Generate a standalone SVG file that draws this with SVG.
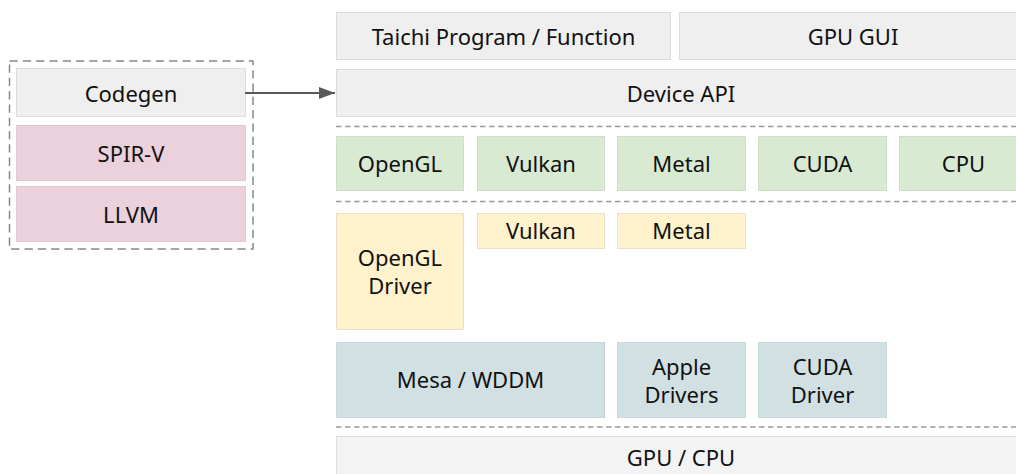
<svg xmlns="http://www.w3.org/2000/svg" width="1016" height="474" viewBox="0 0 1016 474">
<defs>
<style>
text{font-family:"Noto Sans","Open Sans","DejaVu Sans",sans-serif;font-size:22px;fill:#111;text-anchor:middle}
.b{stroke-width:1}
.gray{fill:#efefef;stroke:#dcdcdc}
.pink{fill:#ead1dc;stroke:#e0c8d3}
.green{fill:#d9ead3;stroke:#cddfc7}
.yellow{fill:#fff2cc;stroke:#e8e0c8}
.blue{fill:#d0e0e3;stroke:#c6d6d9}
.light{fill:#f3f3f3;stroke:#dedede}
.sep{stroke:#9a9a9a;stroke-width:1.3;stroke-dasharray:5.5 3.5;fill:none}
.grp{stroke:#888;stroke-width:1.5;stroke-dasharray:8.3 5;fill:none}
</style>
<marker id="arr" markerWidth="16" markerHeight="12" refX="16" refY="6" orient="auto" markerUnits="userSpaceOnUse">
<path d="M0,0 L16,6 L0,12 Z" fill="#595959"/>
</marker>
</defs>
<rect width="1016" height="474" fill="#fff"/>

<g id="separators">
<line class="sep" x1="336" y1="126.5" x2="1016" y2="126.5"/>
<line class="sep" x1="336" y1="201.5" x2="1016" y2="201.5"/>
<line class="sep" x1="336" y1="427" x2="1016" y2="427"/>
</g>

<g id="codegen-group">
<rect class="grp" x="9.5" y="61" width="243.5" height="188"/>
</g>
<g id="codegen"><rect class="gray b" x="16.5" y="68.5" width="229" height="48"/><text x="131" y="102">Codegen</text></g>
<g id="spirv"><rect class="pink b" x="16.5" y="125.5" width="229" height="55"/><text x="131" y="162">SPIR-V</text></g>
<g id="llvm"><rect class="pink b" x="16.5" y="186.5" width="229" height="55"/><text x="131" y="222.5">LLVM</text></g>

<g id="taichi"><rect class="gray b" x="336.5" y="12.5" width="334" height="47"/><text x="503.5" y="45">Taichi Program / Function</text></g>
<g id="gpugui"><rect class="gray b" x="679.5" y="12.5" width="348" height="47"/><text x="853" y="45">GPU GUI</text></g>
<g id="deviceapi"><rect class="gray b" x="336.5" y="69.5" width="691" height="47"/><text x="681" y="101.5">Device API</text></g>

<g id="b-opengl"><rect class="green b" x="336.5" y="136.5" width="127" height="54"/><text x="400" y="171.5">OpenGL</text></g>
<g id="b-vulkan"><rect class="green b" x="477.5" y="136.5" width="127" height="54"/><text x="541" y="171.5">Vulkan</text></g>
<g id="b-metal"><rect class="green b" x="617.5" y="136.5" width="128" height="54"/><text x="681.5" y="171.5">Metal</text></g>
<g id="b-cuda"><rect class="green b" x="758.5" y="136.5" width="128" height="54"/><text x="822.5" y="171.5">CUDA</text></g>
<g id="b-cpu"><rect class="green b" x="899.5" y="136.5" width="128" height="54"/><text x="963.5" y="171.5">CPU</text></g>

<g id="d-opengl"><rect class="yellow b" x="336.5" y="213.5" width="127" height="116"/><text x="400" y="266">OpenGL</text><text x="400" y="293.5">Driver</text></g>
<g id="d-vulkan"><rect class="yellow b" x="477.5" y="213.5" width="127" height="35"/><text x="541" y="239">Vulkan</text></g>
<g id="d-metal"><rect class="yellow b" x="617.5" y="213.5" width="128" height="35"/><text x="681.5" y="239">Metal</text></g>

<g id="mesa"><rect class="blue b" x="336.5" y="342.5" width="268" height="75"/><text x="470.5" y="388">Mesa / WDDM</text></g>
<g id="apple"><rect class="blue b" x="617.5" y="342.5" width="128" height="75"/><text x="681.5" y="374.5">Apple</text><text x="681.5" y="402.5">Drivers</text></g>
<g id="cudadriver"><rect class="blue b" x="758.5" y="342.5" width="128" height="75"/><text x="822.5" y="374.5">CUDA</text><text x="822.5" y="402.5">Driver</text></g>

<g id="gpucpu"><rect class="light b" x="336.5" y="436.5" width="691" height="44"/><text x="681" y="465.5">GPU / CPU</text></g>

<g id="connectors">
<line x1="245" y1="93" x2="335" y2="93" stroke="#595959" stroke-width="2" marker-end="url(#arr)"/>
</g>
</svg>
